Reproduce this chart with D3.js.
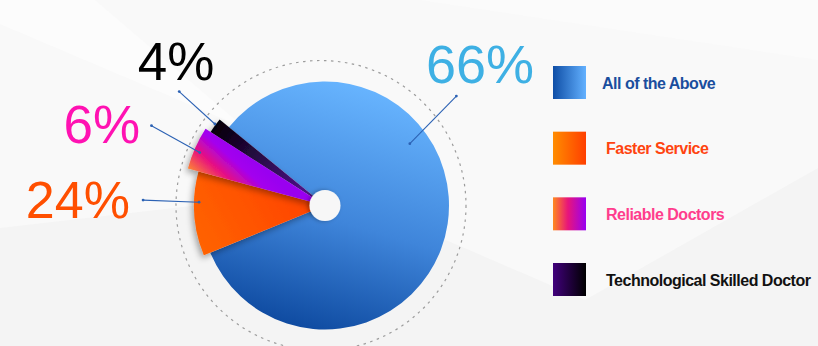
<html>
<head>
  <title>Survey pie</title>
  <style>
    body { margin: 0; padding: 0; background: #f5f5f5; overflow: hidden; }
    svg { display: block; }
    .pct { font-family: 'Liberation Sans', Arial, sans-serif; font-weight: 400; }
    .legend-label { font-family: 'Liberation Sans', Arial, sans-serif; font-weight: 700; font-size: 16px; letter-spacing: -0.5px; }
  </style>
  <script src="https://d3js.org/d3.v7.min.js"></script>
</head>
<body>
  <div id="chart"></div>
  <script>
    // Answers and the percentages printed next to each slice
    const categories = ['All of the Above', 'Faster Service', 'Reliable Doctors', 'Technological Skilled Doctor'];
    const percents = [66, 24, 6, 4];
    // Angular share of the circle that each slice takes in the picture (not the printed %)
    const sliceShares = [82.9, 10.4, 4.9, 1.8];
    const legendColors = ['#1a4e9e', '#ff4410', '#ff3d8d', '#111111'];
    const labelColors = ['#3eb0e4', '#ff4f00', '#ff12b2', '#000000'];

    const width = 818, height = 346;
    const cx = 325, cy = 205.5;
    const outerR = [124, 131, 142, 136];   // each slice sticks out a different amount
    const startDeg = 309.2;

    const svg = d3.select('#chart').append('svg')
      .attr('width', width)
      .attr('height', height);
    const defs = svg.append('defs');

    // background with faint diagonal planes
    svg.append('rect').attr('width', width).attr('height', height).attr('fill', '#f4f4f4');
    svg.append('polygon')
      .attr('points', '0,0 818,0 818,168 585,300 330,190 0,228')
      .attr('fill', '#f9f9f9');
    svg.append('polygon')
      .attr('points', '0,0 95,0 245,128 0,24')
      .attr('fill', '#fcfcfc');
    svg.append('polygon')
      .attr('points', '420,0 818,0 818,60')
      .attr('fill', '#fbfbfb');

    function grad(id, stops, x1, y1, x2, y2, user) {
      const g = defs.append('linearGradient').attr('id', id)
        .attr('x1', x1).attr('y1', y1).attr('x2', x2).attr('y2', y2);
      if (user) g.attr('gradientUnits', 'userSpaceOnUse');
      stops.forEach(s => g.append('stop').attr('offset', s[0]).attr('stop-color', s[1]));
    }

    // slice fills, coords relative to the pie centre
    grad('s0', [[0, '#68b5ff'], [0.55, '#3f85da'], [1, '#0e4aa0']], 45, -120, -25, 124, true);
    grad('s1', [[0, '#ff4600'], [1, '#ff6306']], -25, -10, -125, 45, true);
    grad('s2', [[0, '#ff8e2e'], [0.4, '#e8127e'], [0.75, '#a400ee'], [1, '#9a00f0']], -137, -35, -103, -73, true);
    grad('s3', [[0, '#050008'], [1, '#4a1283']], -107, -83, -25, -15, true);
    // legend fills
    grad('l0', [[0, '#0f4ea6'], [1, '#63b1ff']], '0%', '0%', '100%', '0%');
    grad('l1', [[0, '#ff8c00'], [1, '#ff3f00']], '0%', '0%', '100%', '0%');
    grad('l2', [[0, '#ff8a20'], [0.45, '#e8157a'], [1, '#9800f2']], '0%', '0%', '100%', '0%');
    grad('l3', [[0, '#41007c'], [1, '#000000']], '0%', '0%', '100%', '0%');

    const shadow = defs.append('filter').attr('id', 'shadow')
      .attr('x', '-30%').attr('y', '-30%').attr('width', '160%').attr('height', '160%');
    shadow.append('feDropShadow').attr('dx', -2).attr('dy', 3).attr('stdDeviation', 3)
      .attr('flood-color', '#000').attr('flood-opacity', 0.35);
    const holeShadow = defs.append('filter').attr('id', 'holeShadow')
      .attr('x', '-50%').attr('y', '-50%').attr('width', '200%').attr('height', '200%');
    holeShadow.append('feDropShadow').attr('dx', -2).attr('dy', 0).attr('stdDeviation', 2)
      .attr('flood-color', '#000').attr('flood-opacity', 0.3);

    const data = categories.map((c, i) => ({ name: c, pct: percents[i], share: sliceShares[i], i: i }));

    const pie = d3.pie().sort(null).value(d => d.share)
      .startAngle(startDeg * Math.PI / 180)
      .endAngle(startDeg * Math.PI / 180 + 2 * Math.PI);
    const arcs = pie(data);

    const arc = d3.arc().innerRadius(0).outerRadius(d => outerR[d.data.i]);

    // dashed guide ring
    svg.append('circle')
      .attr('cx', cx - 4).attr('cy', cy)
      .attr('r', 145)
      .attr('fill', 'none')
      .attr('stroke', '#9c9c9c')
      .attr('stroke-width', 1.2)
      .attr('stroke-dasharray', '2.5 4.5');

    const g = svg.append('g').attr('transform', `translate(${cx},${cy})`);
    // blue first, then the small slices with a shadow on top
    [0, 1, 3, 2].forEach(k => {
      g.append('path')
        .attr('d', arc(arcs[k]))
        .attr('fill', `url(#s${k})`)
        .attr('filter', k === 0 ? null : 'url(#shadow)');
    });

    g.append('circle')
      .attr('r', 15.5)
      .attr('fill', '#f7f7f7')
      .attr('filter', 'url(#holeShadow)');

    // leader lines and labels, in polar coords around the pie centre
    const polar = (deg, r) => [cx + r * Math.sin(deg * Math.PI / 180), cy - r * Math.cos(deg * Math.PI / 180)];
    const leaders = [
      { a1: 53.9, r1: 105, a2: 50.2, r2: 171, la: 51.7, lr: 197.6, size: 54 },
      { a1: 271.5, r1: 126, a2: 271.7, r2: 182, la: 267.0, lr: 247.5, size: 52 },
      { a1: 292.9, r1: 136, a2: 294.7, r2: 191, la: 285.6, lr: 231.8, size: 53 },
      { a1: 306.5, r1: 137, a2: 308.0, r2: 185, la: 310.1, lr: 194.8, size: 53 }
    ];

    data.forEach((d, i) => {
      const L = leaders[i];
      const p1 = polar(L.a1, L.r1), p2 = polar(L.a2, L.r2);
      svg.append('line')
        .attr('x1', p1[0]).attr('y1', p1[1]).attr('x2', p2[0]).attr('y2', p2[1])
        .attr('stroke', '#2c62b4').attr('stroke-width', 1.1);
      [p1, p2].forEach(p => svg.append('circle').attr('cx', p[0]).attr('cy', p[1]).attr('r', 1.4).attr('fill', '#2c62b4'));
      const lp = polar(L.la, L.lr);
      svg.append('text')
        .attr('class', 'pct')
        .attr('x', lp[0]).attr('y', lp[1])
        .attr('text-anchor', 'middle')
        .attr('font-size', L.size)
        .attr('fill', labelColors[i])
        .text(d.pct + '%');
    });

    // legend
    const ly = d3.scalePoint().domain(categories).range([66, 263]);
    const legend = svg.append('g');
    categories.forEach((c, i) => {
      legend.append('rect')
        .attr('x', 553).attr('y', ly(c))
        .attr('width', 33).attr('height', 33)
        .attr('fill', `url(#l${i})`);
      legend.append('text')
        .attr('class', 'legend-label')
        .attr('x', i === 0 ? 602 : 606)
        .attr('y', ly(c) + 22.5)
        .attr('fill', legendColors[i])
        .text(c);
    });
  </script>
</body>
</html>
